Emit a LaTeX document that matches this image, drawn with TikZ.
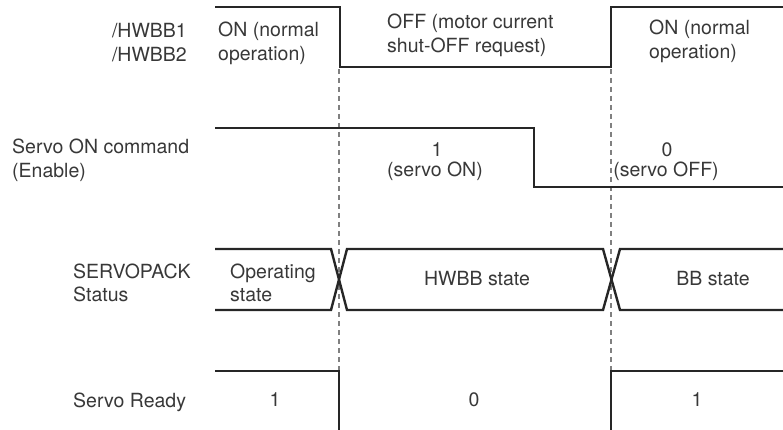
\documentclass[tikz,border=0pt]{standalone}
\usepackage{fontspec}
\setmainfont{TeX Gyre Heros}
\usepackage{tikz}
\tikzset{
	sigline/.style={line width=2.4pt, color=black!85}
}
\tikzset{
	guideline/.style={line width=1.1pt, color=gray, dash pattern=on 5pt off 4pt}
}
\tikzset{
	sigtext/.style={font=\fontsize{19.5}{24}\selectfont, text=black!78, inner sep=0pt}
}

\begin{document}
\begin{tikzpicture}[x=1pt, y=-1pt]
      \useasboundingbox (0,0) rectangle (783,430);
      % guide lines
      \draw[guideline] (339,69) -- (339,371);
      \draw[guideline] (611,69) -- (611,371);
      % /HWBB1, /HWBB2
      \draw[sigline] (215,7) -- (340,7) -- (340,67) -- (611,67) -- (611,7) -- (783,7);
      \node[sigtext, anchor=base east] (hwbbA) at (187,38) {/HWBB1};
      \node[sigtext, anchor=base east] (hwbbB) at (187,62) {/HWBB2};
      \node[sigtext, anchor=base west] (onA) at (218,37) {ON (normal};
      \node[sigtext, anchor=base west] (onB) at (218,61) {operation)};
      \node[sigtext, anchor=base west] (offA) at (387,29) {OFF (motor current};
      \node[sigtext, anchor=base west] (offB) at (387,53) {shut-OFF request)};
      \node[sigtext, anchor=base west] (reonA) at (649,35) {ON (normal};
      \node[sigtext, anchor=base west] (reonB) at (649,59) {operation)};
      % servo ON command
      \draw[sigline] (215,128) -- (534,128) -- (534,187) -- (783,187);
      \node[sigtext, anchor=base west] (cmdA) at (12,154) {Servo ON command};
      \node[sigtext, anchor=base west] (cmdB) at (12,178) {(Enable)};
      \node[sigtext, anchor=base] (oneA) at (437,157) {1};
      \node[sigtext, anchor=base] (oneB) at (435,177) {(servo ON)};
      \node[sigtext, anchor=base] (zeroA) at (667,157) {0};
      \node[sigtext, anchor=base] (zeroB) at (666,177) {(servo OFF)};
      % SERVOPACK status
      \draw[sigline] (215,249) -- (331,249) -- (347,310) -- (603,310) -- (620,249) -- (783,249);
      \draw[sigline] (215,310) -- (331,310) -- (347,249) -- (603,249) -- (620,310) -- (783,310);
      \node[sigtext, anchor=base west] (packA) at (73,278) {SERVOPACK};
      \node[sigtext, anchor=base west] (packB) at (73,301) {Status};
      \node[sigtext, anchor=base west] (opA) at (230,278) {Operating};
      \node[sigtext, anchor=base west] (opB) at (230,301) {state};
      \node[sigtext, anchor=base] (hwbbst) at (477,285) {HWBB state};
      \node[sigtext, anchor=base] (bbst) at (713,285) {BB state};
      % servo ready
      \draw[sigline] (215,371) -- (339,371) -- (339,432);
      \draw[sigline] (611,432) -- (611,371) -- (783,371);
      \node[sigtext, anchor=base west] (rdy) at (73,407) {Servo Ready};
      \node[sigtext, anchor=base] (rdyA) at (275,406) {1};
      \node[sigtext, anchor=base] (rdyB) at (474,406) {0};
      \node[sigtext, anchor=base] (rdyC) at (697,406) {1};
    \end{tikzpicture}
\end{document}
